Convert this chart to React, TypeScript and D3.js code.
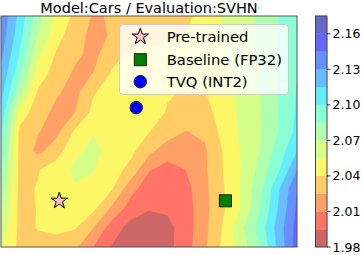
import React from "react";
import * as d3 from "d3";

// ---- data ----
const titleText = "Model:Cars / Evaluation:SVHN";

// loss landscape grid (rows top -> bottom, columns left -> right)
const lossGrid: number[][] = [
  [2.142, 2.1103, 2.0767, 2.0513, 2.0364, 2.0232, 2.0264, 2.0296, 2.0328, 2.0355, 2.038, 2.0434, 2.0563, 2.0642, 2.0733, 2.0852, 2.094],
  [2.138, 2.1058, 2.0687, 2.0452, 2.0319, 2.0201, 2.0265, 2.0299, 2.0333, 2.0368, 2.0402, 2.0477, 2.055, 2.0634, 2.0727, 2.0853, 2.095],
  [2.133, 2.099, 2.0579, 2.0381, 2.0278, 2.021, 2.034, 2.043, 2.045, 2.046, 2.047, 2.05, 2.054, 2.0623, 2.0715, 2.0853, 2.097],
  [2.127, 2.0893, 2.048, 2.0328, 2.0227, 2.0252, 2.042, 2.046, 2.047, 2.047, 2.047, 2.048, 2.052, 2.0613, 2.0707, 2.0853, 2.099],
  [2.12, 2.0738, 2.0376, 2.0265, 2.0202, 2.039, 2.046, 2.048, 2.046, 2.041, 2.039, 2.039, 2.048, 2.0599, 2.0695, 2.0853, 2.101],
  [2.112, 2.049, 2.0313, 2.0211, 2.0247, 2.044, 2.05, 2.049, 2.046, 2.039, 2.034, 2.035, 2.046, 2.0586, 2.0689, 2.0855, 2.102],
  [2.103, 2.0366, 2.0256, 2.021, 2.042, 2.054, 2.051, 2.046, 2.0405, 2.032, 2.0245, 2.028, 2.0445, 2.0576, 2.0683, 2.0853, 2.104],
  [2.095, 2.0359, 2.021, 2.0325, 2.052, 2.0585, 2.05, 2.044, 2.029, 2.017, 2.015, 2.0225, 2.0405, 2.0563, 2.07, 2.0913, 2.114],
  [2.087, 2.036, 2.039, 2.048, 2.058, 2.0555, 2.047, 2.035, 2.011, 2.0045, 2.01, 2.022, 2.04, 2.0557, 2.075, 2.0975, 2.13],
  [2.079, 2.036, 2.041, 2.047, 2.0535, 2.049, 2.0405, 2.015, 2.0015, 1.999, 2.005, 2.021, 2.0385, 2.0565, 2.081, 2.113, 2.144],
  [2.071, 2.036, 2.0405, 2.045, 2.046, 2.043, 2.022, 2.003, 1.996, 1.997, 2.003, 2.02, 2.038, 2.056, 2.084, 2.116, 2.147],
  [2.063, 2.0365, 2.0405, 2.042, 2.041, 2.025, 2.002, 1.99, 1.986, 1.991, 2.002, 2.021, 2.041, 2.0665, 2.091, 2.122, 2.15],
  [2.056, 2.036, 2.037, 2.036, 2.028, 2.0097, 1.994, 1.986, 1.984, 1.99, 2.004, 2.022, 2.043, 2.0625, 2.085, 2.119, 2.152],
];

const contourLevels = [1.98, 1.995, 2.01, 2.025, 2.04, 2.055, 2.07, 2.085, 2.1, 2.115, 2.13, 2.145, 2.16, 2.175];
const colorbarTicks = [1.98, 2.01, 2.04, 2.07, 2.1, 2.13, 2.16];

const pointLabels = ["Pre-trained", "Baseline (FP32)", "TVQ (INT2)"];
const pointX = [0.197, 0.758, 0.457];
const pointY = [0.2, 0.2, 0.603];

// ---- styling ----
const W = 363;
const H = 255;
const plot = { left: 1, top: 16, right: 297, bottom: 247 };
const cbar = { left: 315.5, right: 327, top: 16, bottom: 247 };
const FONT = "DejaVu Sans";

type Seg = [number, number][];
const jetR: Seg = [[0, 0], [0.35, 0], [0.66, 1], [0.89, 1], [1, 0.5]];
const jetG: Seg = [[0, 0], [0.125, 0], [0.375, 1], [0.64, 1], [0.91, 0], [1, 0]];
const jetB: Seg = [[0, 0.5], [0.11, 1], [0.34, 1], [0.65, 0], [1, 0]];
function seg(s: Seg, t: number) {
  for (let i = 1; i < s.length; i++) {
    if (t <= s[i][0]) {
      const [x0, y0] = s[i - 1];
      const [x1, y1] = s[i];
      return y0 + ((t - x0) / (x1 - x0)) * (y1 - y0);
    }
  }
  return s[s.length - 1][1];
}
const ALPHA = 0.6;
function bandColor(k: number, n: number) {
  const t = 1 - (k + 0.5) / n; // reversed jet
  const c = [seg(jetR, t), seg(jetG, t), seg(jetB, t)].map((v) =>
    Math.round((v * ALPHA + (1 - ALPHA)) * 255)
  );
  return `rgb(${c[0]},${c[1]},${c[2]})`;
}

function starPath(cx: number, cy: number, R: number) {
  const pts: string[] = [];
  for (let i = 0; i < 10; i++) {
    const a = -Math.PI / 2 + (i * Math.PI) / 5;
    const r = i % 2 === 0 ? R : R * 0.381966;
    pts.push(`${cx + r * Math.cos(a)},${cy + r * Math.sin(a)}`);
  }
  return "M" + pts.join("L") + "Z";
}

function Marker({ kind, x, y }: { kind: number; x: number; y: number }) {
  if (kind === 0)
    return <path d={starPath(x, y, 8.6)} fill="#ffc0cb" stroke="#000" strokeWidth={1} strokeLinejoin="miter" />;
  if (kind === 1)
    return <rect x={x - 6} y={y - 6} width={12} height={12} fill="#008000" stroke="#1a1a1a" strokeWidth={1} />;
  return <circle cx={x} cy={y} r={6.2} fill="#0000ff" stroke="#1a1a1a" strokeWidth={1} />;
}

export default function App() {
  const nCols = lossGrid[0].length;
  const nRows = lossGrid.length;
  const nBands = contourLevels.length - 1;

  const sx = d3.scaleLinear().domain([0, 1]).range([plot.left, plot.right]);
  const sy = d3.scaleLinear().domain([0, 1]).range([plot.bottom, plot.top]);

  const contours = d3
    .contours()
    .size([nCols, nRows])
    .thresholds(contourLevels.slice(0, nBands))(lossGrid.flat());

  const proj = d3.geoTransform({
    point(x: number, y: number) {
      (this as any).stream.point(
        sx((x - 0.5) / (nCols - 1)),
        sy(1 - (y - 0.5) / (nRows - 1))
      );
    },
  });
  const path = d3.geoPath(proj as any);

  const cy = d3.scaleLinear().domain([contourLevels[0], contourLevels[nBands]]).range([cbar.bottom, cbar.top]);

  const legendX = 119.5;
  const legendY = 24.5;
  const rowCenters = [36.7, 59.7, 81.7];

  return (
    <svg
      width={W}
      height={H}
      style={{ position: "absolute", left: 0, top: 0, background: "#fff" }}
      fontFamily={FONT}
    >
      <defs>
        <clipPath id="plotClip">
          <rect x={plot.left} y={plot.top} width={plot.right - plot.left} height={plot.bottom - plot.top} />
        </clipPath>
      </defs>
      <g clipPath="url(#plotClip)">
        {contours.map((c, k) => (
          <path key={k} d={path(c as any) || ""} fill={bandColor(k, nBands)} stroke={bandColor(k, nBands)} strokeWidth={0.3} />
        ))}
      </g>
      <rect
        x={plot.left}
        y={plot.top}
        width={plot.right - plot.left}
        height={plot.bottom - plot.top}
        fill="none"
        stroke="#555"
        strokeWidth={1}
      />
      {pointLabels.map((_, i) => (
        <Marker key={i} kind={i} x={sx(pointX[i])} y={sy(pointY[i])} />
      ))}

      {/* legend */}
      <rect x={legendX} y={legendY} width={169} height={70} rx={3.5} fill="#fff" fillOpacity={0.8} stroke="#cccccc" strokeWidth={1} />
      {pointLabels.map((lab, i) => (
        <g key={lab}>
          <Marker kind={i} x={140.3} y={rowCenters[i]} />
          <text x={166.7} y={rowCenters[i] + 5.2} fontSize={14.8} fill="#000">
            {lab}
          </text>
        </g>
      ))}

      {/* colorbar */}
      {d3.range(nBands).map((k) => (
        <rect
          key={k}
          x={cbar.left}
          y={cy(contourLevels[k + 1])}
          width={cbar.right - cbar.left}
          height={cy(contourLevels[k]) - cy(contourLevels[k + 1])}
          fill={bandColor(k, nBands)}
          stroke={bandColor(k, nBands)}
          strokeWidth={0.3}
        />
      ))}
      <rect x={cbar.left} y={cbar.top} width={cbar.right - cbar.left} height={cbar.bottom - cbar.top} fill="none" stroke="#444" strokeWidth={1} />
      {colorbarTicks.map((t) => (
        <g key={t}>
          <line x1={cbar.right} x2={cbar.right + 3.5} y1={cy(t)} y2={cy(t)} stroke="#000" strokeWidth={0.8} />
          <text x={332.5} y={cy(t) + 4.5} fontSize={12.5} fill="#000">
            {t.toFixed(2)}
          </text>
        </g>
      ))}

      <text x={(plot.left + plot.right) / 2} y={12.5} fontSize={14.5} textAnchor="middle" fill="#000">
        {titleText}
      </text>
    </svg>
  );
}
